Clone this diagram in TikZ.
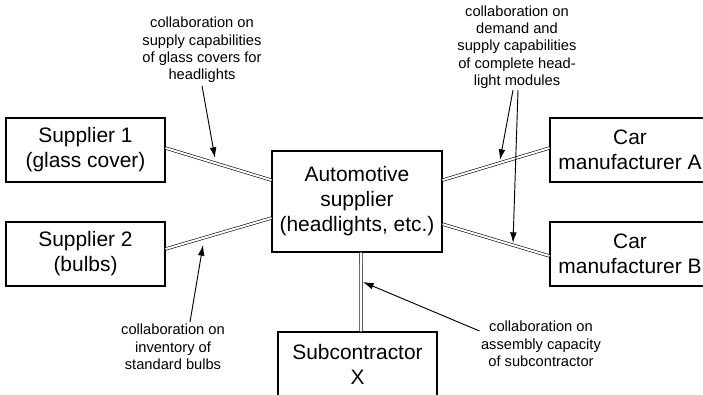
\documentclass[tikz,border=0pt]{standalone}
\usepackage{fontspec}
\setmainfont{Liberation Sans}
\usetikzlibrary{arrows.meta}
\tikzset{
  box/.style={draw, line width=0.8pt, inner sep=0pt, align=center,
    font=\fontsize{15.7}{18.8}\selectfont},
  note/.style={inner sep=0pt, align=center, font=\fontsize{11}{13}\selectfont},
  link/.style={double, line width=0.45pt, double distance=1.5pt},
  pointer/.style={-{Latex[length=8pt,width=5pt]}, line width=0.7pt}
}
\begin{document}
\begin{tikzpicture}[x=0.75pt, y=-0.75pt]
\clip (0,0) rectangle (703,395);
% boxes
\node[box, minimum width=119.25pt, minimum height=48pt] (s1) at (85.5,150) {Supplier 1\\(glass cover)};
\node[box, minimum width=119.25pt, minimum height=48pt] (s2) at (85.5,254) {Supplier 2\\(bulbs)};
\node[box, minimum width=127.5pt, minimum height=75.75pt] (auto) at (357,201.5) {Automotive\\supplier\\(headlights, etc.)};
\node[box, minimum width=120pt, minimum height=48pt] (ca) at (630,150) {Car\\manufacturer A};
\node[box, minimum width=120pt, minimum height=48pt] (cb) at (630,254) {Car\\manufacturer B};
\node[box, minimum width=119.25pt, minimum height=48.75pt] (sub) at (357.5,364.5) {Subcontractor\\X};
% connectors
\draw[link] ([yshift=1.5pt]s1.east) -- ([yshift=16pt]auto.west);
\draw[link] ([yshift=3.75pt]s2.east) -- ([yshift=-12.4pt]auto.west);
\draw[link] ([yshift=16pt]auto.east) -- ([yshift=1.5pt]ca.west);
\draw[link] ([yshift=-17pt]auto.east) -- ([yshift=-1.5pt]cb.west);
\draw[link] ([xshift=3pt]auto.south) -- ([xshift=2.6pt]sub.north);
% notes
\node[note] (n1) at (202,50) {collaboration on\\supply capabilities\\of glass covers for\\headlights};
\node[note] (n2) at (173,347) {collaboration on\\inventory of\\standard bulbs};
\node[note] (n3) at (517,47) {collaboration on\\demand and\\supply capabilities\\of complete head-\\light modules};
\node[note] (n4) at (541,344) {collaboration on\\assembly capacity\\of subcontractor};
% tips
\coordinate (t1) at (215,158);
\coordinate (t2) at (203,245);
\coordinate (t3a) at (500,160);
\coordinate (t3b) at (513,243);
\coordinate (t4) at (363,282);
\draw[pointer] ([yshift=-2pt]n1.south) -- (t1);
\draw[pointer] ([xshift=12.75pt,yshift=1.5pt]n2.north) -- (t2);
\draw[pointer] ([xshift=-3pt,yshift=-1pt]n3.south) -- (t3a);
\draw[pointer] ([xshift=0.75pt,yshift=-1pt]n3.south) -- (t3b);
\draw[pointer] ([xshift=-1pt,yshift=9.75pt]n4.west) -- (t4);
\end{tikzpicture}
\end{document}
